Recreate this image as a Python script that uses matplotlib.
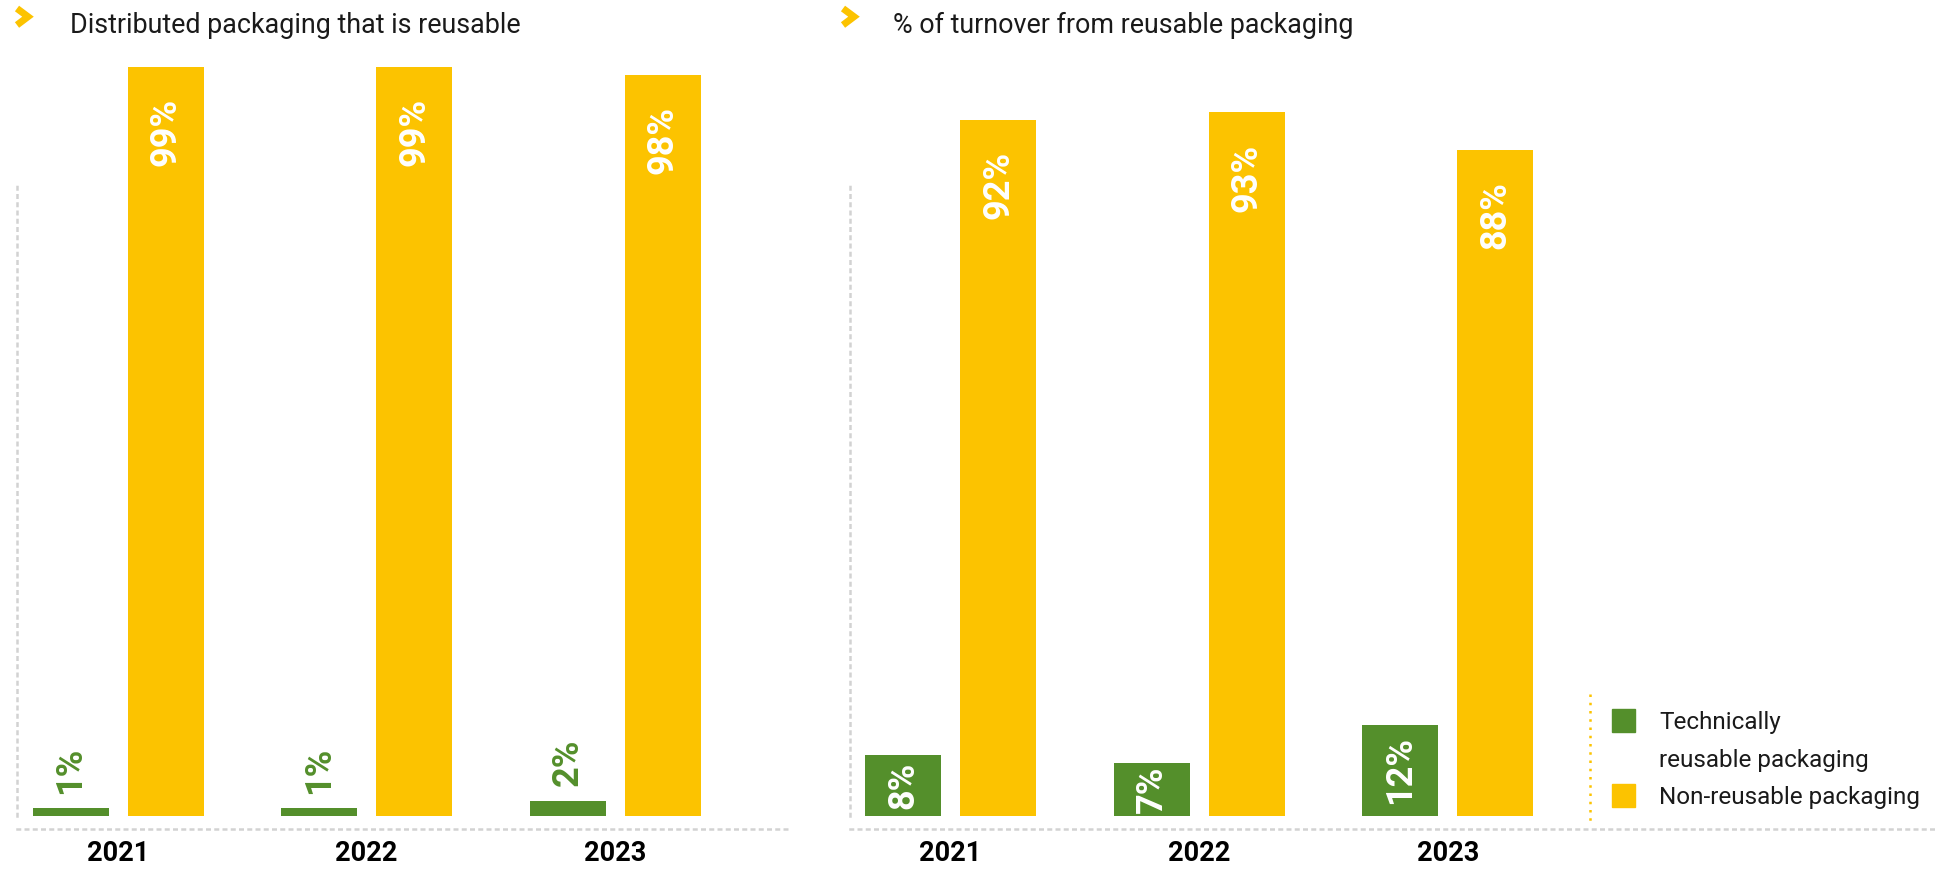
import matplotlib
matplotlib.use("Agg")
import matplotlib.pyplot as plt
import numpy as np
from matplotlib.lines import Line2D
from matplotlib.patches import Rectangle

# ---- data -------------------------------------------------------------
years = ["2021", "2022", "2023"]
reusable_share = [1, 1, 2]            # distributed packaging, technically reusable (%)
nonreusable_share = [99, 99, 98]      # distributed packaging, non-reusable (%)
turnover_reusable = [8, 7, 12]        # turnover from reusable packaging (%)
turnover_nonreusable = [92, 93, 88]   # turnover from non-reusable packaging (%)

panel_titles = ["Distributed packaging that is reusable",
                "% of turnover from reusable packaging"]
legend_labels = ["Technically\nreusable packaging", "Non-reusable packaging"]

# ---- style ------------------------------------------------------------
GREEN = "#548f2b"
YELLOW = "#fcc300"
DOT_GREY = "#d2d2d2"
TEXT = "#1a1a1a"
FONT = ["Roboto", "DejaVu Sans"]
DOTS = (0, (1, 2.3))

W, H = 1937, 869
fig = plt.figure(figsize=(W / 100, H / 100), dpi=100)
fig.patch.set_facecolor("white")

PX_PER_PCT = 7.563   # vertical scale, pixels per percentage point
BASE = 815.7         # baseline (pixels from top)
GROUP = 248.6        # distance between year groups (pixels)
BAR_PX = 76          # bar width (pixels)
OFF_PX = 47.5        # bar centre offset from group centre (pixels)
AXIS_TOP = 182       # top end of the dotted vertical axis (pixels from top)


def fx(px):
    return px / W


def fy(py):
    return 1 - py / H


def make_panel(left_px, right_px, first_center_px, green_vals, yellow_vals,
               green_inside):
    ax = fig.add_axes([fx(left_px), fy(BASE), (right_px - left_px) / W,
                       100 * PX_PER_PCT / H])
    ax.set_ylim(0, 100)
    ax.set_xlim((left_px - first_center_px) / GROUP,
                (right_px - first_center_px) / GROUP)
    ax.patch.set_alpha(0)

    x = np.arange(len(years))
    bw = BAR_PX / GROUP
    off = OFF_PX / GROUP
    ax.bar(x - off, green_vals, width=bw, color=GREEN, clip_on=False)
    ax.bar(x + off, yellow_vals, width=bw, color=YELLOW, clip_on=False)

    lab = dict(rotation=90, fontsize=26, fontweight="bold", family=FONT,
               ha="center", clip_on=False)
    for xi, v in zip(x, yellow_vals):
        ax.annotate(f"{v}%", (xi + off, v), xytext=(0, -22.5),
                    textcoords="offset points", va="top", color="white", **lab)
    for xi, v in zip(x, green_vals):
        if green_inside:
            ax.text(xi - off, v / 2, f"{v}%", va="center", color="white", **lab)
        else:
            ax.annotate(f"{v}%", (xi - off, v), xytext=(0, 10.5),
                        textcoords="offset points", va="bottom", color=GREEN,
                        **lab)

    for s in ("top", "right"):
        ax.spines[s].set_visible(False)
    for s in ("left", "bottom"):
        ax.spines[s].set_color(DOT_GREY)
        ax.spines[s].set_linewidth(1.8)
        ax.spines[s].set_linestyle(DOTS)
    ax.spines["left"].set_bounds(0, (BASE - AXIS_TOP) / PX_PER_PCT)
    ax.spines["bottom"].set_position(("outward", 13.4 * 0.72))

    ax.set_yticks([])
    ax.set_xticks(x)
    ax.set_xticklabels(years, fontsize=19.5, fontweight="bold", family=FONT,
                       color="black")
    ax.tick_params(axis="x", length=0, pad=8)
    return ax


make_panel(17, 790, 118, reusable_share, nonreusable_share, green_inside=False)
make_panel(850, 1937, 950.5, turnover_reusable, turnover_nonreusable,
           green_inside=True)

# ---- panel headings with chevrons --------------------------------------
for title, chev_x, text_x in zip(panel_titles, [17, 843], [70, 893]):
    fig.add_artist(Line2D([fx(chev_x), fx(chev_x + 11), fx(chev_x)],
                          [fy(8.5), fy(16.7), fy(25)], color=YELLOW, lw=5,
                          solid_joinstyle="miter", solid_capstyle="butt"))
    fig.text(fx(text_x), fy(32.7), title, fontsize=19.4, family=FONT,
             color=TEXT, ha="left", va="baseline")

# ---- legend ------------------------------------------------------------
fig.add_artist(Line2D([fx(1590), fx(1590)], [fy(694), fy(823)], color=YELLOW,
                      lw=1.8, ls=DOTS))
sq = 23
for colour, label, sq_top in zip([GREEN, YELLOW], legend_labels, [709, 784]):
    fig.add_artist(Rectangle((fx(1612), fy(sq_top + sq)), sq / W, sq / H,
                             transform=fig.transFigure, color=colour))
    for i, line in enumerate(label.split("\n")):
        fig.text(fx(1659), fy(sq_top + 20.3 + 38 * i), line, fontsize=17.5,
                 family=FONT, color=TEXT, ha="left", va="baseline")

fig.savefig("out.png", dpi=100, facecolor="white")
